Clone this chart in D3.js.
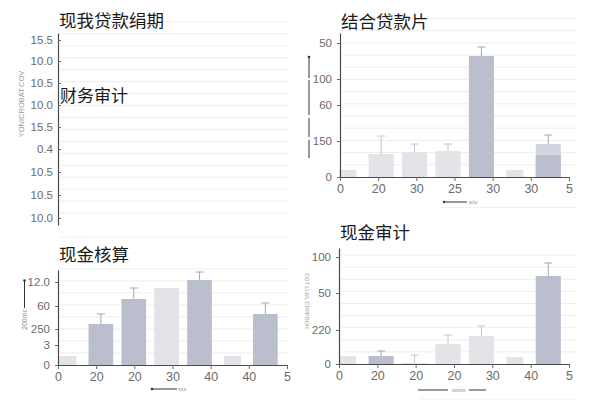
<!DOCTYPE html>
<html><head><meta charset="utf-8">
<script src="https://cdn.jsdelivr.net/npm/d3@7"></script>
<style>
html,body{margin:0;padding:0;background:#fff;}
svg{display:block;}
.tick text{font-family:"Liberation Sans",Arial,sans-serif;fill:#6b6b6b;}
</style></head>
<body>
<svg id="c" width="600" height="400"></svg>
<script>
// ---------- data ----------
// top-left panel (axis only)
const tlTitle = "现我贷款绢期";
const tlOverlay = "财务审计";
const tlYLabels = ["10.0","10.5","10.5","0.4","15.5","10.0","10.5","10.0","15.5"];
const tlYTickVals = [7,30,53,76,98,120,142,164,185];
const tlAxisNote = "YONICROBAT.COV";

// top-right panel
const trTitle = "结合贷款片";
const trXLabels = ["0","20","30","25","30","30","5"];
const trYLabels = ["0","150","60","100","50"];
const trYTickVals = [0,36,72,98,134];
const trValues = [7,23,25,26,121,7,33];
const trInner  = [0,0,0,0,0,0,22];
const trErr    = [null,41,33,33,130,null,42];
const trGroup  = ["light","light","light","light","dark","light","mid"];
const trNote = "o/o";

// bottom-left panel
const blTitle = "现金核算";
const blXLabels = ["0","20","20","30","40","40","5"];
const blYLabels = ["0","3","250","60","12.0"];
const blYTickVals = [0,20,36,59,83];
const blValues = [9,41,66,77,85,9,51];
const blInner  = [0,0,0,0,0,0,0];
const blErr    = [null,51,77,null,93,null,62];
const blGroup  = ["light","dark","dark","light","dark","light","dark"];
const blNote = "200mc";

// bottom-right panel
const brTitle = "现金审计";
const brXLabels = ["0","20","20","20","30","40","5"];
const brYLabels = ["0","220","50","100"];
const brYTickVals = [0,34,71,107];
const brValues = [8,8,1,20,28,7,88];
const brInner  = [0,0,0,0,0,0,0];
const brErr    = [null,13,9,29,38,null,101];
const brGroup  = ["light","dark","light","light","light","light","dark"];
const brNote = "COT LLWL CPPPDOH";

// ---------- drawing ----------
const svg = d3.select("#c");
const color = d3.scaleOrdinal().domain(["light","dark","mid"]).range(["#e3e3e8","#babecd","#d2d4de"]);
const errColor = d3.scaleOrdinal().domain(["light","dark","mid"]).range(["#c4c6ce","#a3a7b4","#a3a7b4"]);
const CJK = '"Noto Sans CJK SC","Noto Sans",sans-serif';

function gridlines(g, x0, x1, yBottom, yTop, step){
  const ys = d3.range(yBottom - step, yTop - 1, -step);
  g.append("g").selectAll("line").data(ys).join("line")
    .attr("x1", x0).attr("x2", x1).attr("y1", d=>d).attr("y2", d=>d)
    .attr("stroke", "#ededed").attr("stroke-width", 1);
}

function styleAxis(a){
  a.selectAll("path.domain").attr("stroke","#4a4a4a").attr("stroke-width",1.2);
  a.selectAll(".tick line").attr("stroke","#6a6a6a");
}

function panel(o){
  const g = svg.append("g");
  gridlines(g, o.left + 2, o.gridRight, o.bottom, o.gridTop, o.gridStep);

  const y = d3.scaleLinear().domain([0, o.bottom - o.top]).range([o.bottom, o.top]);

  if (o.xLabels){
    const idx = d3.range(o.xLabels.length);
    const xp = d3.scalePoint().domain(idx).range([o.left, o.right]);
    const xb = d3.scaleBand().domain(idx).range([o.barStart, o.barEnd]).paddingInner(0.25).paddingOuter(0.125);
    const bw = xb.bandwidth();
    const narrow = i => (i === 0 || i === 5);
    const bx = i => xb(i) + bw/2 - (narrow(i) ? 8.5 : bw/2);
    const bwid = i => narrow(i) ? 17 : bw;

    const bars = g.append("g");
    bars.selectAll("rect.main").data(o.values).join("rect")
      .attr("class","main")
      .attr("x", (d,i)=>bx(i)).attr("width", (d,i)=>bwid(i))
      .attr("y", d=>y(d)).attr("height", d=>o.bottom - y(d))
      .attr("fill", (d,i)=>color(o.group[i]));
    bars.selectAll("rect.inner").data(o.inner).join("rect")
      .attr("class","inner")
      .attr("x", (d,i)=>bx(i)).attr("width", (d,i)=>bwid(i))
      .attr("y", d=>y(d)).attr("height", d=>o.bottom - y(d))
      .attr("fill", color("dark"));
    const eg = bars.selectAll("g.err").data(o.err.map((e,i)=>({e,i,v:o.values[i]})).filter(d=>d.e!=null)).join("g").attr("class","err");
    eg.append("line")
      .attr("x1", d=>xb(d.i)+bw/2).attr("x2", d=>xb(d.i)+bw/2)
      .attr("y1", d=>y(d.v)).attr("y2", d=>y(d.e))
      .attr("stroke", d=>errColor(o.group[d.i])).attr("stroke-width",1);
    eg.append("line")
      .attr("x1", d=>xb(d.i)+bw/2-4).attr("x2", d=>xb(d.i)+bw/2+4)
      .attr("y1", d=>y(d.e)).attr("y2", d=>y(d.e))
      .attr("stroke", d=>errColor(o.group[d.i])).attr("stroke-width",1);

    const xa = g.append("g").attr("transform",`translate(0,${o.bottom})`)
      .call(d3.axisBottom(xp).tickFormat(i=>o.xLabels[i]).tickSize(4).tickSizeOuter(0).tickPadding(3));
    xa.selectAll(".tick text").attr("font-size", 12.5);
    styleAxis(xa);
  }

  const ya = g.append("g").attr("transform",`translate(${o.left},0)`)
    .call(d3.axisLeft(y).tickValues(o.yVals).tickFormat((d,i)=>o.yLabels[i]).tickSize(o.tickIn ? -3 : 3).tickSizeOuter(0).tickPadding(5));
  ya.selectAll(".tick text").attr("font-size", 11.5);
  styleAxis(ya);

  g.append("text").attr("x", o.left + 1).attr("y", o.titleY)
    .attr("font-family", CJK).attr("font-size", 17.5).attr("fill","#1a1a1a").text(o.title);
  return g;
}

// top-left
const gTL = panel({title: tlTitle, titleY: 27, left: 58, right: 288, top: 33, bottom: 225,
  gridRight: 288, gridTop: 15, gridStep: 11.95, yVals: tlYTickVals, yLabels: tlYLabels, tickIn: true});
gTL.append("text").attr("x", 60).attr("y", 102).attr("font-family", CJK).attr("font-size", 17).attr("fill","#1a1a1a").text(tlOverlay);
gTL.append("text").attr("transform","translate(24,104) rotate(-90)").attr("text-anchor","middle")
  .attr("font-family","Liberation Sans, Arial").attr("font-size", 7.5).attr("fill","#9a9a9a").text(tlAxisNote);

// top-right
const gTR = panel({title: trTitle, titleY: 28, left: 340, right: 569, top: 33, bottom: 177,
  barStart: 331, barEnd: 565, gridRight: 577, gridTop: 15, gridStep: 12.2,
  xLabels: trXLabels, yVals: trYTickVals, yLabels: trYLabels, values: trValues, inner: trInner, err: trErr, group: trGroup});
gTR.append("line").attr("x1",309).attr("x2",309).attr("y1",57).attr("y2",158)
  .attr("stroke","#333").attr("stroke-width",1).attr("stroke-dasharray","21 2 35 3 19 3 20");
gTR.append("circle").attr("cx",309).attr("cy",57).attr("r",1.3).attr("fill","#333");
gTR.append("line").attr("x1",444).attr("x2",467).attr("y1",202).attr("y2",202).attr("stroke","#333").attr("stroke-width",1);
gTR.append("circle").attr("cx",444).attr("cy",202).attr("r",1.2).attr("fill","#333");
gTR.append("text").attr("x",469).attr("y",204).attr("font-family","Liberation Sans, Arial").attr("font-size",6).attr("fill","#888").text(trNote);
gTR.append("line").attr("x1",440).attr("x2",577).attr("y1",207.5).attr("y2",207.5).attr("stroke","#f0f0f0");

// bottom-left
const gBL = panel({title: blTitle, titleY: 261, left: 58, right: 287, top: 270, bottom: 365,
  barStart: 51.5, barEnd: 281.8, gridRight: 288, gridTop: 262, gridStep: 12,
  xLabels: blXLabels, yVals: blYTickVals, yLabels: blYLabels, values: blValues, inner: blInner, err: blErr, group: blGroup});
gBL.append("line").attr("x1",60).attr("x2",290).attr("y1",237).attr("y2",237).attr("stroke","#f0f0f0");
gBL.append("line").attr("x1",152).attr("x2",177).attr("y1",389).attr("y2",389).attr("stroke","#333").attr("stroke-width",1);
gBL.append("circle").attr("cx",152).attr("cy",389).attr("r",1.3).attr("fill","#333");
gBL.append("text").attr("x",178).attr("y",391).attr("font-family","Liberation Sans, Arial").attr("font-size",5.5).attr("fill","#888").text("xxx");
gBL.append("text").attr("transform","translate(27,330) rotate(-90)").attr("text-anchor","start")
  .attr("font-family","Liberation Sans, Arial").attr("font-size", 7).attr("fill","#8a8a8a").text(blNote);
gBL.append("line").attr("x1",24.5).attr("x2",24.5).attr("y1",281).attr("y2",308).attr("stroke","#333").attr("stroke-width",1);
gBL.append("circle").attr("cx",24.5).attr("cy",280.5).attr("r",1.3).attr("fill","#333");

// bottom-right
const gBR = panel({title: brTitle, titleY: 239, left: 339, right: 569, top: 248, bottom: 364,
  barStart: 331, barEnd: 565, gridRight: 577, gridTop: 250, gridStep: 12.1,
  xLabels: brXLabels, yVals: brYTickVals, yLabels: brYLabels, values: brValues, inner: brInner, err: brErr, group: brGroup});
gBR.append("line").attr("x1",418).attr("x2",448).attr("y1",390).attr("y2",390).attr("stroke","#333").attr("stroke-width",1);
gBR.append("line").attr("x1",469).attr("x2",486).attr("y1",390).attr("y2",390).attr("stroke","#333").attr("stroke-width",1);
gBR.append("text").attr("x",458.5).attr("y",392).attr("text-anchor","middle").attr("font-family","Liberation Sans, Arial").attr("font-size",5.5).attr("fill","#888").text("ıonnn");
gBR.append("line").attr("x1",420).attr("x2",577).attr("y1",399).attr("y2",399).attr("stroke","#f0f0f0");
gBR.append("text").attr("transform","translate(305,301) rotate(90)").attr("text-anchor","middle")
  .attr("font-family","Liberation Sans, Arial").attr("font-size", 5.5).attr("fill","#9a9a9a").text(brNote);
</script>
</body></html>
